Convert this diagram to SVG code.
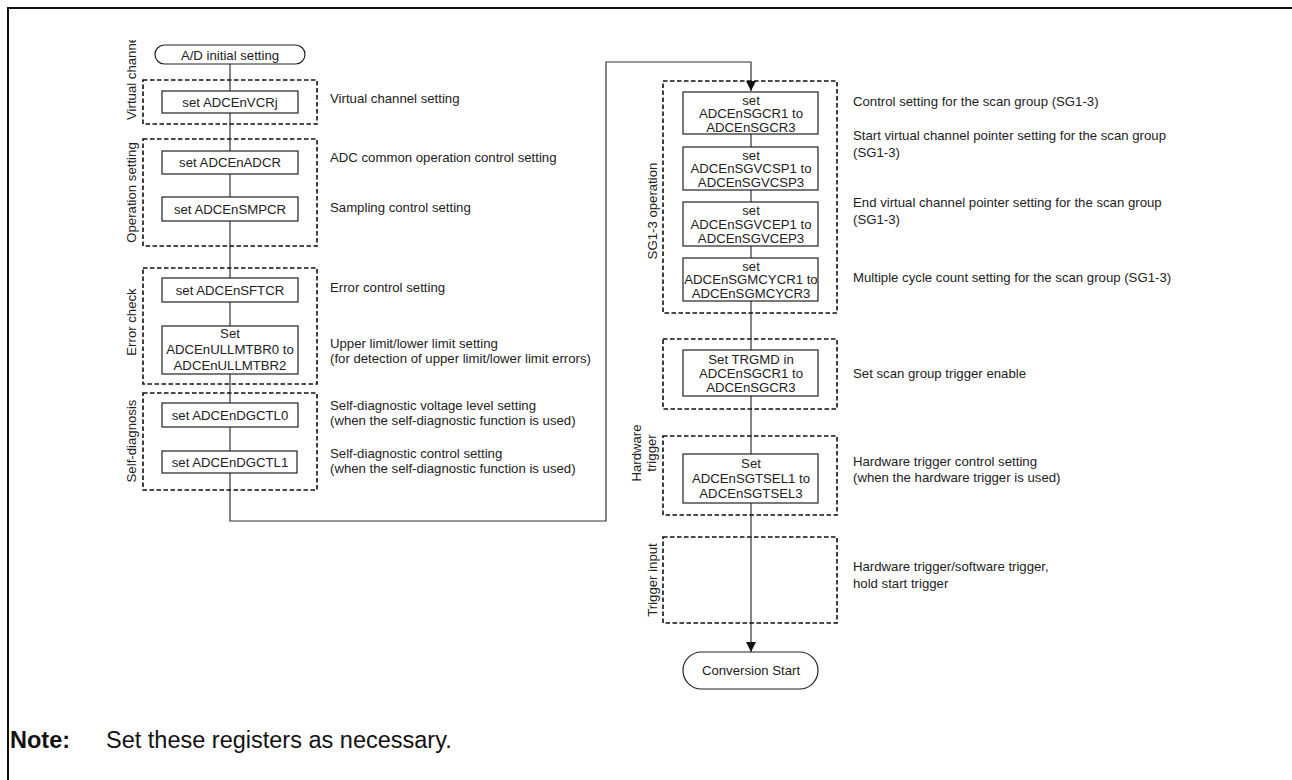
<svg xmlns="http://www.w3.org/2000/svg" width="1292" height="780" viewBox="0 0 1292 780">
<style>
text{font-family:"Liberation Sans",Arial,sans-serif;font-size:13.2px;fill:#222}
.c{text-anchor:middle}
.box{fill:#fff;stroke:#222;stroke-width:1.2}
.grp{fill:none;stroke:#111;stroke-width:1.6;stroke-dasharray:4.5 2.5}
.ln{fill:none;stroke:#333;stroke-width:1.2}
.note{font-size:23.5px;fill:#111}
</style>
<defs>
<marker id="ah" viewBox="0 0 10 10" refX="10" refY="5" markerWidth="10" markerHeight="10" markerUnits="userSpaceOnUse" orient="auto">
<path d="M0,0 L10,5 L0,10 z" fill="#111"/>
</marker>
<clipPath id="clipv"><rect x="100" y="40" width="60" height="100"/></clipPath>
</defs>
<rect width="1292" height="780" fill="#fff"/>
<path d="M8,780 V8 H1292" fill="none" stroke="#111" stroke-width="2"/>

<g id="connectors">
<line class="ln" x1="230" y1="64" x2="230" y2="91"/>
<line class="ln" x1="230" y1="113" x2="230" y2="151"/>
<line class="ln" x1="230" y1="174" x2="230" y2="197"/>
<line class="ln" x1="230" y1="221" x2="230" y2="278"/>
<line class="ln" x1="230" y1="302" x2="230" y2="326"/>
<line class="ln" x1="230" y1="374" x2="230" y2="403"/>
<line class="ln" x1="230" y1="427" x2="230" y2="451"/>
<path class="ln" d="M230,473 V521 H606 V62 H751 V91" marker-end="url(#ah)"/>
<line class="ln" x1="751" y1="134" x2="751" y2="147"/>
<line class="ln" x1="751" y1="190" x2="751" y2="202"/>
<line class="ln" x1="751" y1="246" x2="751" y2="258"/>
<line class="ln" x1="751" y1="301" x2="751" y2="350"/>
<line class="ln" x1="751" y1="396" x2="751" y2="454"/>
<path class="ln" d="M751,503 V652" marker-end="url(#ah)"/>
</g>

<g id="grp-virtual">
<rect class="grp" x="143" y="80" width="174" height="44"/>
<g clip-path="url(#clipv)">
<text transform="translate(136,120) rotate(-90)">Virtual channel</text>
</g>
</g>
<g id="grp-operation">
<rect class="grp" x="143" y="139" width="174" height="107"/>
<text class="c" transform="translate(136,192.5) rotate(-90)">Operation setting</text>
</g>
<g id="grp-error">
<rect class="grp" x="143" y="268" width="174" height="116"/>
<text class="c" transform="translate(136,322) rotate(-90)">Error check</text>
</g>
<g id="grp-selfdiag">
<rect class="grp" x="143" y="393" width="174" height="97"/>
<text class="c" transform="translate(136,441) rotate(-90)">Self-diagnosis</text>
</g>
<g id="grp-sg">
<rect class="grp" x="663" y="81" width="174" height="232"/>
<text class="c" transform="translate(657,211) rotate(-90)">SG1-3 operation</text>
</g>
<g id="grp-trgen">
<rect class="grp" x="663" y="339" width="174" height="70"/>
</g>
<g id="grp-hw">
<rect class="grp" x="663" y="436" width="174" height="79"/>
<text class="c" transform="translate(641,453) rotate(-90)">Hardware</text>
<text class="c" transform="translate(656,453) rotate(-90)">trigger</text>
</g>
<g id="grp-trgin">
<rect class="grp" x="663" y="537" width="174" height="86"/>
<text class="c" transform="translate(657,580) rotate(-90)">Trigger input</text>
</g>

<g id="n-start">
<rect class="box" x="155" y="45" width="150" height="19" rx="9.5"/>
<text class="c" x="230" y="59.5">A/D initial setting</text>
</g>
<g id="n-vcr">
<rect class="box" x="162" y="91" width="136" height="22"/>
<text class="c" x="230" y="106.5">set ADCEnVCRj</text>
</g>
<g id="n-adcr">
<rect class="box" x="162" y="151" width="136" height="23"/>
<text class="c" x="230" y="167">set ADCEnADCR</text>
</g>
<g id="n-smpcr">
<rect class="box" x="162" y="197" width="136" height="24"/>
<text class="c" x="230" y="213.5">set ADCEnSMPCR</text>
</g>
<g id="n-sftcr">
<rect class="box" x="162" y="278" width="136" height="24"/>
<text class="c" x="230" y="294.5">set ADCEnSFTCR</text>
</g>
<g id="n-ullmtbr">
<rect class="box" x="162" y="326" width="136" height="48"/>
<text class="c" x="230" y="338">Set</text>
<text class="c" x="230" y="354">ADCEnULLMTBR0 to</text>
<text class="c" x="230" y="370">ADCEnULLMTBR2</text>
</g>
<g id="n-dgctl0">
<rect class="box" x="162" y="403" width="136" height="24"/>
<text class="c" x="230" y="419.5">set ADCEnDGCTL0</text>
</g>
<g id="n-dgctl1">
<rect class="box" x="162" y="451" width="135" height="22"/>
<text class="c" x="230" y="466.5">set ADCEnDGCTL1</text>
</g>

<g id="n-sgcr">
<rect class="box" x="683" y="92" width="135" height="42"/>
<text class="c" x="751" y="104.5">set</text>
<text class="c" x="751" y="118">ADCEnSGCR1 to</text>
<text class="c" x="751" y="131.5">ADCEnSGCR3</text>
</g>
<g id="n-sgvcsp">
<rect class="box" x="683" y="147" width="135" height="43"/>
<text class="c" x="751" y="159.5">set</text>
<text class="c" x="751" y="173">ADCEnSGVCSP1 to</text>
<text class="c" x="751" y="186.5">ADCEnSGVCSP3</text>
</g>
<g id="n-sgvcep">
<rect class="box" x="683" y="202" width="135" height="44"/>
<text class="c" x="751" y="214.5">set</text>
<text class="c" x="751" y="228.5">ADCEnSGVCEP1 to</text>
<text class="c" x="751" y="242.5">ADCEnSGVCEP3</text>
</g>
<g id="n-sgmcycr">
<rect class="box" x="683" y="258" width="135" height="43"/>
<text class="c" x="751" y="270.5">set</text>
<text class="c" x="751" y="284">ADCEnSGMCYCR1 to</text>
<text class="c" x="751" y="297.5">ADCEnSGMCYCR3</text>
</g>
<g id="n-trgmd">
<rect class="box" x="683" y="350" width="135" height="46"/>
<text class="c" x="751" y="363.5">Set TRGMD in</text>
<text class="c" x="751" y="377.5">ADCEnSGCR1 to</text>
<text class="c" x="751" y="391.5">ADCEnSGCR3</text>
</g>
<g id="n-sgtsel">
<rect class="box" x="683" y="454" width="135" height="49"/>
<text class="c" x="751" y="468">Set</text>
<text class="c" x="751" y="483">ADCEnSGTSEL1 to</text>
<text class="c" x="751" y="498">ADCEnSGTSEL3</text>
</g>
<g id="n-end">
<rect class="box" x="683" y="652" width="135" height="37" rx="18.5"/>
<text class="c" x="751" y="675">Conversion Start</text>
</g>

<g id="labels">
<text x="330" y="102.5">Virtual channel setting</text>
<text x="330" y="161.5">ADC common operation control setting</text>
<text x="330" y="211.5">Sampling control setting</text>
<text x="330" y="291.5">Error control setting</text>
<text x="330" y="347.5">Upper limit/lower limit setting</text>
<text x="330" y="362.5">(for detection of upper limit/lower limit errors)</text>
<text x="330" y="409.5">Self-diagnostic voltage level setting</text>
<text x="330" y="424.5">(when the self-diagnostic function is used)</text>
<text x="330" y="457.5">Self-diagnostic control setting</text>
<text x="330" y="472.5">(when the self-diagnostic function is used)</text>
<text x="853" y="105.5">Control setting for the scan group (SG1-3)</text>
<text x="853" y="140">Start virtual channel pointer setting for the scan group</text>
<text x="853" y="157">(SG1-3)</text>
<text x="853" y="207">End virtual channel pointer setting for the scan group</text>
<text x="853" y="224">(SG1-3)</text>
<text x="853" y="281.5">Multiple cycle count setting for the scan group (SG1-3)</text>
<text x="853" y="377.5">Set scan group trigger enable</text>
<text x="853" y="465.5">Hardware trigger control setting</text>
<text x="853" y="481.5">(when the hardware trigger is used)</text>
<text x="853" y="570.5">Hardware trigger/software trigger,</text>
<text x="853" y="587.5">hold start trigger</text>
</g>

<g id="note">
<text class="note" x="10" y="748" font-weight="bold">Note:</text>
<text class="note" x="106" y="748">Set these registers as necessary.</text>
</g>
</svg>
